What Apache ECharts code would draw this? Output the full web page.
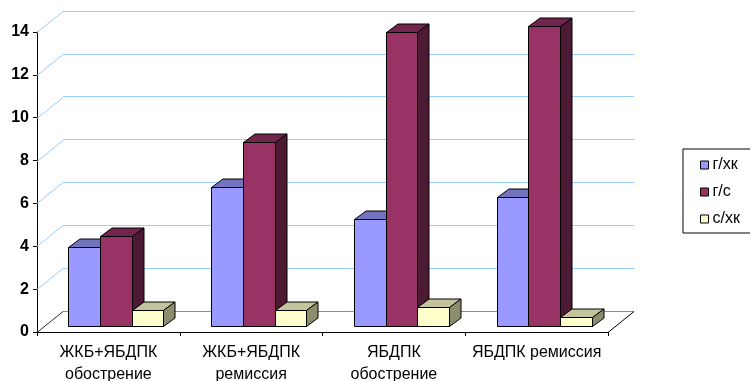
<!DOCTYPE html>
<html>
<head>
<meta charset="utf-8">
<script src="https://cdn.jsdelivr.net/npm/echarts@6/dist/echarts.min.js"></script>
<style>
  html, body { margin: 0; padding: 0; background: #fff; }
  #chart { width: 750px; height: 381px; }
</style>
</head>
<body>
<div id="chart"></div>
<script>
// Categories, series and value-axis ticks
const categories = ['ЖКБ+ЯБДПК\nобострение', 'ЖКБ+ЯБДПК\nремиссия', 'ЯБДПК\nобострение', 'ЯБДПК ремиссия'];
const seriesNames = ['г/хк', 'г/с', 'с/хк'];
const gxk = [3.7, 6.5, 5.0, 6.0];
const gs = [4.2, 8.6, 13.7, 14.0];
const sxk = [0.75, 0.75, 0.9, 0.4];
const yTicks = [0, 2, 4, 6, 8, 10, 12, 14];

const seriesValues = [gxk, gs, sxk];
const faceColors = [
  { front: '#9999FF', top: '#7373BF', side: '#4D4D80' },
  { front: '#993366', top: '#73264D', side: '#4D1A33' },
  { front: '#FFFFCC', top: '#C4C49C', side: '#8C8C6E' }
];

// Pseudo-3D layout: depth of the wall/floor and placement of the bars in it
const WALL_DX = 26, WALL_DY = 21;
const PLANE = 0.29;          // depth fraction where bar fronts stand
const BAR_DX = 11.5, BAR_DY = 8.5;
const BAR_FRAC = 0.222;      // bar width as fraction of the category band

const FONT = 'Liberation Sans, Arial, sans-serif';
const GRID_LEFT = 37, GRID_TOP = 32, GRID_W = 571, GRID_H = 300;

const px = v => Math.round(v) + 0.5;

function barRenderer(si) {
  return function (params, api) {
    const cat = api.value(0), val = api.value(1);
    const base = api.coord([cat, 0]);
    const top = api.coord([cat, val]);
    const band = api.size([1, 0])[0];
    const w = band * BAR_FRAC;
    const ox = WALL_DX * PLANE, oy = -WALL_DY * PLANE;
    const x0 = px(base[0] - 1.5 * w + si * w + ox);
    const x1 = px(base[0] - 1.5 * w + (si + 1) * w + ox);
    const yb = px(base[1] + oy), yt = px(top[1] + oy);
    const c = faceColors[si];
    const edge = { stroke: '#000', lineWidth: 1, lineJoin: 'miter' };
    return {
      type: 'group',
      children: [
        { type: 'polygon', shape: { points: [[x0, yb], [x1, yb], [x1, yt], [x0, yt]] },
          style: Object.assign({ fill: c.front }, edge) },
        { type: 'polygon', shape: { points: [[x0, yt], [x1, yt], [x1 + BAR_DX, yt - BAR_DY], [x0 + BAR_DX, yt - BAR_DY]] },
          style: Object.assign({ fill: c.top }, edge) },
        { type: 'polygon', shape: { points: [[x1, yb], [x1 + BAR_DX, yb - BAR_DY], [x1 + BAR_DX, yt - BAR_DY], [x1, yt]] },
          style: Object.assign({ fill: c.side }, edge) }
      ]
    };
  };
}

// Side-wall diagonals at each tick, plus the floor outline
function wallRenderer(params, api) {
  const v = api.value(1);
  const p = api.coord([0, v]);
  const band = api.size([1, 0])[0];
  const xl = GRID_LEFT;
  const y = px(p[1]);
  const items = [{
    type: 'line',
    shape: { x1: xl, y1: y, x2: xl + WALL_DX, y2: y - WALL_DY },
    style: { stroke: v === 0 ? '#1F2F3F' : '#99CCFF', lineWidth: 1 }
  }];
  if (v === 0) {
    const xr = xl + band * categories.length;
    items.push({ type: 'line', shape: { x1: xl + WALL_DX, y1: y - WALL_DY, x2: xr + WALL_DX, y2: y - WALL_DY },
      style: { stroke: '#7F8FA0', lineWidth: 1 } });
    items.push({ type: 'line', shape: { x1: xr, y1: y, x2: xr + WALL_DX, y2: y - WALL_DY },
      style: { stroke: '#000', lineWidth: 1 } });
  }
  return { type: 'group', children: items };
}

const chart = echarts.init(document.getElementById('chart'), null, { renderer: 'canvas' });

const series = [{
  type: 'custom',
  name: '__wall',
  xAxisIndex: 0, yAxisIndex: 0,
  renderItem: wallRenderer,
  data: yTicks.map(t => [0, t]),
  z: 1,
  silent: true,
  legendHoverLink: false
}];

seriesNames.forEach((name, si) => {
  series.push({
    type: 'custom',
    name: name,
    xAxisIndex: 0, yAxisIndex: 0,
    renderItem: barRenderer(si),
    itemStyle: { color: faceColors[si].front, borderColor: '#000', borderWidth: 1 },
    data: seriesValues[si].map((v, i) => [i, v]),
    z: 3 + si
  });
});

chart.setOption({
  animation: false,
  backgroundColor: '#fff',
  grid: [
    { left: GRID_LEFT, top: GRID_TOP, width: GRID_W, height: GRID_H, containLabel: false, outerBoundsMode: 'none' },
    { left: GRID_LEFT + WALL_DX, top: GRID_TOP - WALL_DY, width: GRID_W, height: GRID_H, containLabel: false, outerBoundsMode: 'none' }
  ],
  xAxis: [{
    gridIndex: 0,
    type: 'category',
    data: categories,
    boundaryGap: true,
    axisLine: { lineStyle: { color: '#000', width: 1 } },
    axisTick: { show: true, length: 4, lineStyle: { color: '#000' } },
    axisLabel: {
      interval: 0, margin: 10, color: '#000',
      fontFamily: FONT, fontSize: 16, lineHeight: 22
    },
    splitLine: { show: false }
  }, {
    gridIndex: 1,
    type: 'category',
    data: categories,
    axisLine: { show: false }, axisTick: { show: false }, axisLabel: { show: false },
    splitLine: { show: false }
  }],
  yAxis: [{
    gridIndex: 0,
    type: 'value',
    min: 0, max: 14, interval: 2,
    axisLine: { show: true, lineStyle: { color: '#000', width: 1 } },
    axisTick: { show: true, length: 4, lineStyle: { color: '#000' } },
    axisLabel: { margin: 8, color: '#000', fontFamily: FONT, fontSize: 16, fontWeight: 'bold' },
    splitLine: { show: false }
  }, {
    gridIndex: 1,
    type: 'value',
    min: 0, max: 14, interval: 2,
    axisLine: { show: false }, axisTick: { show: false }, axisLabel: { show: false },
    splitLine: { show: true, lineStyle: { color: '#99CCFF', width: 1 } }
  }],
  legend: {
    data: seriesNames,
    orient: 'vertical',
    left: 683, top: 149,
    padding: [8, 22, 6, 17],
    itemGap: 11,
    itemWidth: 8, itemHeight: 8,
    icon: 'rect',
    borderColor: '#000', borderWidth: 1,
    textStyle: { fontFamily: FONT, fontSize: 16, color: '#000', padding: [0, 0, 0, -1] },
    itemStyle: { borderColor: '#000', borderWidth: 1 }
  },
  tooltip: { show: false },
  series: series
});
</script>
</body>
</html>
